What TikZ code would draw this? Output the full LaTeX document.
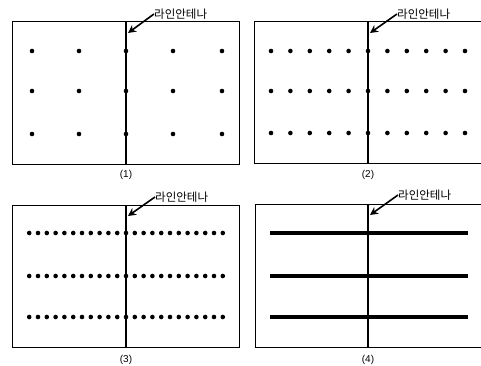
\documentclass[tikz,border=0pt]{standalone}
\usepackage{fontspec}
\newfontfamily\kr{Noto Sans CJK KR}
\setmainfont{Liberation Sans}
\usetikzlibrary{arrows.meta}
\tikzset{
  frame/.style={draw=black, line width=1pt},
  antenna/.style={draw=black, line width=2.4pt},
  dot/.style={circle, fill=black, inner sep=0pt, minimum size=4.6pt},
  bar/.style={draw=black, line width=3.8pt},
  lbl/.style={font=\kr\fontsize{11.5}{12}\selectfont, inner sep=0pt, anchor=west},
  num/.style={font=\fontsize{10}{11}\selectfont, inner sep=0pt},
  pointer/.style={draw=black, line width=1.6pt, -{Stealth[length=8pt,width=8pt]}}
}
\begin{document}
\begin{tikzpicture}[x=1pt,y=-1pt]
\useasboundingbox (0,0) rectangle (481,366);
% Panel 1
\draw[frame] (12,22) rectangle (239,164);
\draw[antenna] (126,22) coordinate (a1t) -- (126,164) coordinate (a1b);
\foreach \x in {32,79,126,173,222}
  \foreach \y in {51,91,134}
    \node[dot] at (\x,\y) {};
\node[lbl] (l1) at (154,14) {라인안테나};
\coordinate (t1) at (128,33);
\draw[pointer] (l1.west) -- (t1);
\node[num] (n1) at (126,175) {(1)};
% Panel 2
\draw[frame] (254,22) rectangle (481,163);
\draw[antenna] (368,22) coordinate (a2t) -- (368,163) coordinate (a2b);
\foreach \i in {-5,...,5}
  \foreach \y in {51,91,133}
    \node[dot] at ({368+19.4*\i},\y) {};
\node[lbl] (l2) at (397,14) {라인안테나};
\coordinate (t2) at (370,33);
\draw[pointer] (l2.west) -- (t2);
\node[num] (n2) at (368,175) {(2)};
% Panel 3
\draw[frame] (12,205) rectangle (239,347);
\draw[antenna] (126,205) coordinate (a3t) -- (126,347) coordinate (a3b);
\foreach \i in {-11,...,11}
  \foreach \y in {233,276,317}
    \node[dot] at ({126+8.8*\i},\y) {};
\node[lbl] (l3) at (155,197) {라인안테나};
\coordinate (t3) at (128,216);
\draw[pointer] (l3.west) -- (t3);
\node[num] (n3) at (126,360) {(3)};
% Panel 4
\draw[frame] (255,204) rectangle (481,347);
\draw[antenna, line width=1.8pt] (368,204) coordinate (a4t) -- (368,347) coordinate (a4b);
\foreach \y in {233,276,317}
  \draw[bar] (270,\y) -- (468,\y);
\node[lbl] (l4) at (398,195) {라인안테나};
\coordinate (t4) at (370,215);
\draw[pointer] (l4.west) -- (t4);
\node[num] (n4) at (368,360) {(4)};
\end{tikzpicture}
\end{document}
